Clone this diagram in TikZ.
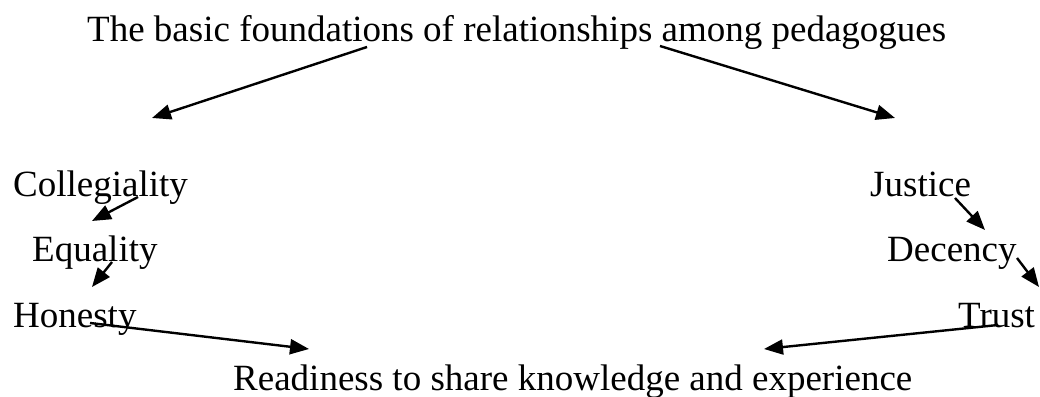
\documentclass[tikz,border=0pt]{standalone}
\usepackage{fontspec}
\setmainfont{Liberation Serif}
\usetikzlibrary{arrows.meta}
\begin{document}
\begin{tikzpicture}[x=1pt,y=1pt,
  lbl/.style={anchor=base west,inner sep=0pt,font=\fontsize{37}{44}\selectfont},
  arr/.style={line width=2.4pt,-{Triangle[length=19pt,width=15pt]}}]
\useasboundingbox (0,0) rectangle (1040,396);
\node[lbl] (title) at (87,354) {The basic foundations of relationships among pedagogues};
\node[lbl] (coll) at (13,199) {Collegiality};
\node[lbl] (equa) at (32,134) {Equality};
\node[lbl] (hone) at (13,69) {Honesty};
\node[lbl] (just) at (870,199) {Justice};
\node[lbl] (dece) at (887,134) {Decency};
\node[lbl] (trus) at (958,69) {Trust};
\node[lbl] (read) at (233,6) {Readiness to share knowledge and experience};
% connector end points
\coordinate (t1) at (367,349);
\coordinate (t2) at (660,350);
\coordinate (l1) at (152,278);
\coordinate (r1) at (895,278);
\coordinate (c1) at (138,199);
\coordinate (e0) at (92,175);
\coordinate (e1) at (112,134);
\coordinate (h0) at (92,109);
\coordinate (h1) at (90,73);
\coordinate (rd0) at (309,47);
\coordinate (j1) at (955,198);
\coordinate (d0) at (985,166);
\coordinate (d1) at (1017,138);
\coordinate (tr0) at (1039,109);
\coordinate (tr1) at (998,71);
\coordinate (rd1) at (764,47);
\draw[arr] (t1) -- (l1);
\draw[arr] (t2) -- (r1);
\draw[arr] (c1) -- (e0);
\draw[arr] (e1) -- (h0);
\draw[arr] (h1) -- (rd0);
\draw[arr] (j1) -- (d0);
\draw[arr] (d1) -- (tr0);
\draw[arr] (tr1) -- (rd1);
\end{tikzpicture}
\end{document}
